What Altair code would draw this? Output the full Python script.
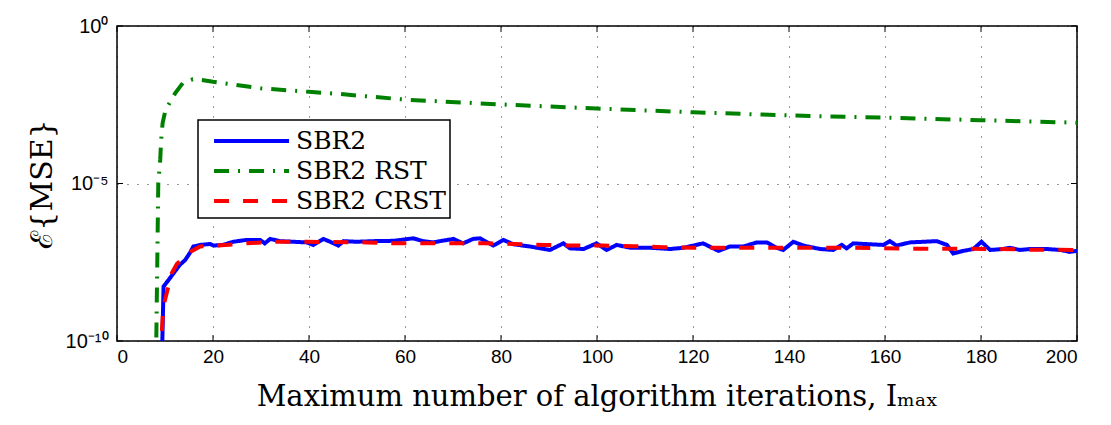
import altair as alt
import pandas as pd

# ---- data (x = iterations, y = log10 of E{MSE}) ----
sbr2_x = [9.0, 9.7, 11.0, 12.8, 13.1, 14.2, 15.2, 15.9, 17.3, 19.4, 20.1, 22.1, 24.2, 27.0, 29.8, 30.8,
          31.9, 34.0, 36.7, 39.5, 40.9, 43.0, 44.4, 46.1, 47.2, 49.9, 53.4, 57.6, 61.7, 63.8, 65.9,
          67.3, 70.1, 72.1, 74.2, 75.6, 78.4, 80.5, 82.6, 86.0, 90.2, 93.0, 94.4, 97.2, 99.9, 102.0,
          104.1, 106.9, 111.0, 115.2, 118.0, 122.1, 125.3, 127.7, 130.5, 133.3, 135.4, 137.4, 138.8,
          140.9, 143.0, 146.5, 149.2, 151.0, 152.0, 153.4, 156.9, 159.7, 161.0, 162.4, 165.2, 168.0,
          170.8, 172.9, 174.2, 176.3, 178.4, 180.1, 181.9, 184.6, 186.0, 188.1, 190.2, 193.7, 196.5,
          198.5, 200.0]
sbr2_y = [-13.0, -8.27, -8.01, -7.64, -7.58, -7.43, -7.2, -7.0, -6.95, -6.92, -6.97, -6.95, -6.85, -6.79,
          -6.79, -6.90, -6.76, -6.83, -6.85, -6.87, -6.95, -6.76, -6.85, -6.97, -6.83, -6.85, -6.83,
          -6.82, -6.74, -6.83, -6.87, -6.83, -6.76, -6.90, -6.76, -6.74, -6.97, -6.79, -6.93, -7.0,
          -7.11, -6.90, -7.06, -7.08, -6.90, -7.11, -6.95, -7.04, -7.04, -7.08, -7.04, -6.90, -7.14,
          -7.0, -7.0, -6.87, -6.87, -7.04, -7.11, -6.85, -6.97, -7.08, -7.11, -6.95, -7.06, -6.90,
          -6.93, -6.95, -6.83, -6.97, -6.87, -6.85, -6.83, -6.95, -7.22, -7.14, -7.08, -6.85, -7.11,
          -7.08, -7.04, -7.11, -7.08, -7.08, -7.11, -7.17, -7.14]

rst_x = [8.1, 8.6, 9.0, 9.2, 9.5, 10.1, 12.1, 13.8, 15.8, 18.0, 20.0, 30.0, 40.0, 46.5, 60.3, 80.1,
         99.9, 120.0, 140.2, 160.0, 180.0, 200.0]
rst_y = [-11.0, -5.0, -4.25, -3.62, -3.08, -2.67, -2.14, -1.79, -1.69, -1.72, -1.77, -1.98, -2.09,
         -2.16, -2.34, -2.49, -2.62, -2.74, -2.84, -2.91, -2.99, -3.07]

crst_x = [9.0, 9.65, 11.4, 12.5, 14.2, 15.5, 17.3, 21.0, 27.0, 33.0, 39.5, 52.0, 58.3, 64.5, 70.8,
          76.3, 82.6, 88.9, 95.1, 101.4, 107.6, 113.9, 120.1, 126.4, 132.6, 140.2, 146.3, 152.5,
          158.8, 165.0, 171.2, 177.5, 183.8, 190.0, 196.3, 200.0]
crst_y = [-10.6, -8.91, -7.85, -7.55, -7.32, -7.15, -7.0, -6.97, -6.90, -6.85, -6.85, -6.87, -6.90,
          -6.90, -6.90, -6.90, -6.92, -6.95, -6.97, -6.97, -6.99, -7.02, -7.04, -7.04, -7.04,
          -7.04, -7.04, -7.04, -7.05, -7.07, -7.07, -7.07, -7.08, -7.10, -7.10, -7.11]

series_names = ["SBR2", "SBR2 RST", "SBR2 CRST"]
series_colors = ["#0000ff", "#008000", "#ff0000"]
series_dashes = [[1, 0], [15, 9, 2, 9], [15, 14]]

x_ticks = [0, 20, 40, 60, 80, 100, 120, 140, 160, 180, 200]
y_ticks = [1e-10, 1e-5, 1.0]


def frame(xs, ys, name):
    return pd.DataFrame({"x": xs, "mse": [10.0 ** v for v in ys], "series": name})


df = pd.concat([
    frame(sbr2_x, sbr2_y, series_names[0]),
    frame(rst_x, rst_y, series_names[1]),
    frame(crst_x, crst_y, series_names[2]),
], ignore_index=True)

xscale = alt.Scale(domain=[0, 200], nice=False, zero=False)
yscale = alt.Scale(type="log", domain=[1e-10, 1], nice=False)

color = alt.Color("series:N", scale=alt.Scale(domain=series_names, range=series_colors),
                  legend=alt.Legend(title=None))
dash = alt.StrokeDash("series:N", scale=alt.Scale(domain=series_names, range=series_dashes),
                      legend=alt.Legend(title=None))

label_expr = ("datum.value >= 0.5 ? '10⁰' : datum.value < 1e-7 ? '10⁻¹⁰' : '10⁻⁵'")

xaxis = alt.Axis(values=x_ticks, grid=True, gridDash=[1, 9], gridColor="#000000", gridOpacity=0.8,
                 gridWidth=1, ticks=False, domain=False, labelFont="Liberation Sans",
                 labelFontSize=19, labelColor="#000", labelPadding=6,
                 title="Maximum number of algorithm iterations, Iₘₐₓ",
                 titleFont="DejaVu Serif", titleFontSize=29, titleFontWeight="normal",
                 titleColor="#000", titlePadding=16)
yaxis = alt.Axis(values=y_ticks, grid=True, gridDash=[1, 9], gridColor="#000000", gridOpacity=0.8,
                 gridWidth=1, ticks=False, domain=False, labelExpr=label_expr,
                 labelFont="Liberation Sans", labelFontSize=20, labelColor="#000", labelPadding=9,
                 title="ℰ{MSE}", titleFont="DejaVu Serif", titleFontSize=30,
                 titleFontWeight="normal", titleColor="#000", titlePadding=8)

layers = []
for i, name in enumerate(series_names):
    base = alt.Chart(df[df.series == name]).mark_line(strokeWidth=4, clip=True)
    if i == 0:
        enc = base.encode(x=alt.X("x:Q", scale=xscale, axis=xaxis),
                          y=alt.Y("mse:Q", scale=yscale, axis=yaxis),
                          color=color, strokeDash=dash, order="x:Q")
    else:
        enc = base.encode(x=alt.X("x:Q", scale=xscale),
                          y=alt.Y("mse:Q", scale=yscale),
                          color=color, strokeDash=dash, order="x:Q")
    layers.append(enc)

xt = pd.DataFrame({"x": x_ticks})
yt = pd.DataFrame({"mse": y_ticks})
tick_bottom = alt.Chart(xt).mark_rule(color="black", strokeWidth=1).encode(
    x=alt.X("x:Q", scale=xscale), y=alt.value(315), y2=alt.value(309))
tick_top = alt.Chart(xt).mark_rule(color="black", strokeWidth=1).encode(
    x=alt.X("x:Q", scale=xscale), y=alt.value(0), y2=alt.value(6))
tick_left = alt.Chart(yt).mark_rule(color="black", strokeWidth=1).encode(
    y=alt.Y("mse:Q", scale=yscale), x=alt.value(0), x2=alt.value(6))
tick_right = alt.Chart(yt).mark_rule(color="black", strokeWidth=1).encode(
    y=alt.Y("mse:Q", scale=yscale), x=alt.value(960), x2=alt.value(954))

chart = alt.layer(tick_bottom, tick_top, tick_left, tick_right, *layers).properties(
    width=960, height=315,
    autosize="none",
    padding={"left": 117, "top": 26, "right": 34, "bottom": 84},
    background="white",
).configure_view(
    stroke="black", strokeWidth=1.5
).configure_legend(
    orient="none", legendX=81, legendY=94,
    fillColor="white", strokeColor="black", strokeWidth=1.5, cornerRadius=0,
    padding=4, symbolType="M-0.33,0H4.67", symbolSize=900, symbolStrokeWidth=4,
    symbolFillColor="transparent",
    labelFont="DejaVu Serif", labelFontSize=25, labelColor="#000", labelOffset=60,
    rowPadding=0, labelLimit=400,
)

chart.save("out.html", embed_options={"renderer": "svg", "actions": False})
